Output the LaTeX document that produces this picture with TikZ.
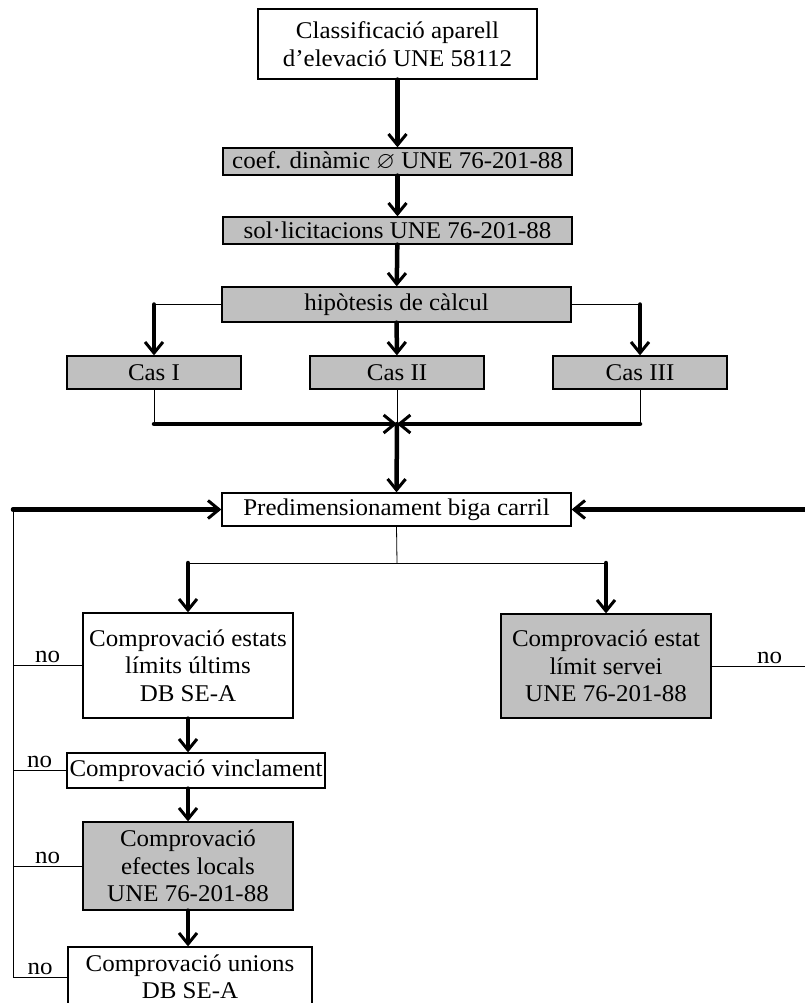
\documentclass[tikz,border=0pt]{standalone}
\usepackage{fontspec}
\setmainfont{Liberation Serif}[FakeStretch=1.04]
\usepackage{amssymb}
\usepackage{tikz}
\usetikzlibrary{arrows.meta, positioning, calc}
\definecolor{cGray}{RGB}{192,192,192}
\tikzset{
	box/.style ={rectangle, draw=black, line width=1.3pt, inner sep=0pt, align=center, fill=white},
	gbox/.style={box, fill=cGray},
	flow/.style={line width=4.5pt, line cap=round, -{Straight Barb[length=11pt, width=18pt, line width=3pt]}},
	wire/.style={line width=0.8pt},
	% label on the feedback lines
	nolab/.style={above, inner sep=2pt},
}
\begin{document}
\begin{tikzpicture}[x=1pt, y=-1pt, font=\fontsize{24}{27.5}\selectfont]
	\useasboundingbox (0,0) rectangle (805,1003);
	\clip (0,0) rectangle (805,1003);
	\node[box, minimum width=279pt, minimum height=70pt] (clas) at (397.5,44) {Classificació aparell\\d’elevació UNE 58112};
	\node[gbox, minimum width=349pt, minimum height=27pt] (coef) at (397.5,161.5) {coef. dinàmic $\varnothing$ UNE 76-201-88};
	\node[gbox, minimum width=349pt, minimum height=27pt] (sol) at (397.5,230.5) {sol·licitacions UNE 76-201-88};
	\node[gbox, minimum width=349pt, minimum height=35pt] (hip) at (396.5,304.5) {hipòtesis de càlcul};
	\node[gbox, minimum width=174pt, minimum height=33pt] (cas1) at (154,372.5) {Cas I};
	\node[gbox, minimum width=174pt, minimum height=33pt] (cas2) at (397,372.5) {Cas II};
	\node[gbox, minimum width=174pt, minimum height=33pt] (cas3) at (640,372.5) {Cas III};
	\node[box, minimum width=349pt, minimum height=33pt] (pre) at (396.5,509.5) {Predimensionament biga carril};
	\node[box, minimum width=210pt, minimum height=105pt] (elu) at (188,665.5) {Comprovació estats\\límits últims\\DB SE-A};
	\node[gbox, minimum width=210pt, minimum height=104pt] (els) at (606,666) {Comprovació estat\\límit servei\\UNE 76-201-88};
	\node[box, minimum width=258pt, minimum height=35pt] (vin) at (196,770.5) {Comprovació vinclament};
	\node[gbox, minimum width=210pt, minimum height=88pt] (loc) at (188,866) {Comprovació\\efectes locals\\UNE 76-201-88};
	\node[box, minimum width=244pt, minimum height=60pt] (uni) at (190,977) {Comprovació unions\\DB SE-A};

	\coordinate (mrg) at (397,424);
	\coordinate (spl) at (397,563);
	\coordinate (lfb) at (13,509.5);
	\coordinate (rfb) at (805,509.5);

	\draw[flow] (clas) -- (coef);
	\draw[flow] (coef) -- (sol);
	\draw[flow] (sol) -- (hip);
	\draw[flow] (hip) -- (cas2);
	\draw[wire] (hip.west) -- (hip.west -| cas1.north);
	\draw[flow] (hip.west -| cas1.north) -- (cas1.north);
	\draw[wire] (hip.east) -- (hip.east -| cas3.north);
	\draw[flow] (hip.east -| cas3.north) -- (cas3.north);

	\draw[wire] (cas1.south) -- (cas1.south |- mrg);
	\draw[wire] (cas3.south) -- (cas3.south |- mrg);
	\draw[wire] (cas2.south) -- (mrg);
	\draw[flow] (cas1.south |- mrg) -- (mrg);
	\draw[flow] (cas3.south |- mrg) -- (mrg);
	\draw[flow] (mrg) -- (pre.north);

	\draw[wire] (pre.south) -- (spl);
	\draw[wire] (spl -| elu.north) -- (spl -| els.north);
	\draw[flow] (spl -| elu.north) -- (elu.north);
	\draw[flow] (spl -| els.north) -- (els.north);

	\draw[flow] (elu.south) -- (elu.south |- vin.north);
	\draw[flow] (elu.south |- vin.south) -- (loc.north);
	\draw[flow] (loc.south) -- (loc.south |- uni.north);

	% feedback loops
	\draw[flow] (lfb) -- (pre.west);
	\draw[flow] (rfb) -- (pre.east);
	\draw[wire] (lfb) -- (lfb |- uni.west);
	\foreach \b in {elu,vin,loc,uni}
		\draw[wire] (lfb |- \b.west) -- node[nolab] {no} (\b.west);
	\draw[wire] (els.east) -- node[nolab, pos=0.62] {no} (els.east -| rfb);
\end{tikzpicture}
\end{document}
